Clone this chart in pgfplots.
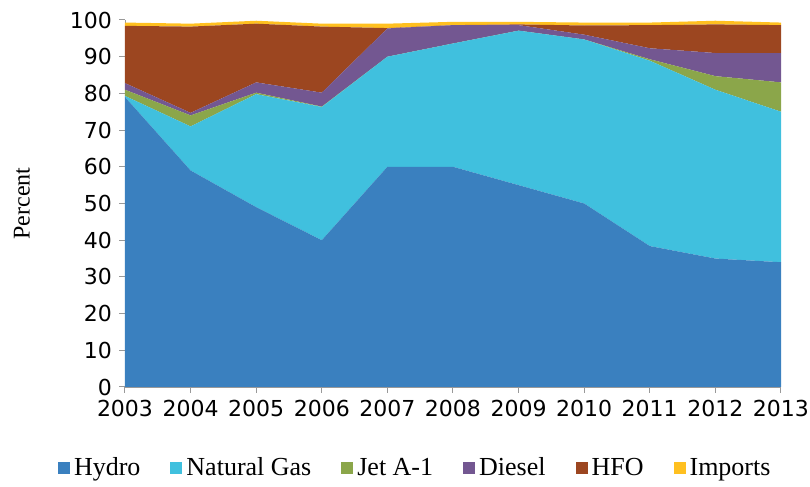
\documentclass[border=0pt]{standalone}
\usepackage{fontspec}
\setmainfont{Liberation Serif}
\newfontfamily\tickfont{DejaVu Sans}
\usepackage{pgfplots}
\pgfplotsset{compat=1.18}
\definecolor{chydro}{RGB}{58,128,191}
\definecolor{cgas}{RGB}{64,192,222}
\definecolor{cjet}{RGB}{139,166,74}
\definecolor{cdiesel}{RGB}{115,87,145}
\definecolor{chfo}{RGB}{156,70,32}
\definecolor{cimp}{RGB}{255,192,32}
\begin{document}
\begin{tikzpicture}
\begin{axis}[
  scale only axis, width=328pt, height=183.5pt,
  xmin=2003, xmax=2013, ymin=0, ymax=100,
  xtick={2003,...,2013}, ytick={0,10,...,100},
  axis lines*=left, axis line style={draw=gray!80},
  tick style={draw=gray!80, line width=0.5pt},
  tick align=outside, major tick length=3pt,
  x tick label style={font=\tickfont\fontsize{11}{13}\selectfont, inner xsep=0pt, /pgf/number format/1000 sep={}},
  y tick label style={font=\tickfont\fontsize{11}{13}\selectfont},
  /pgf/number format/assume math mode=true,
  xticklabel style={/pgf/number format/1000 sep={}},
  ylabel={Percent},
  ylabel style={font=\fontsize{12}{14}\selectfont, at={(rel axis cs:0,0.5)}, yshift=51.5pt, anchor=center},
  stack plots=y, clip=false,
  legend columns=6,
  legend style={draw=none, fill=none, font=\fontsize{13}{15}\selectfont, at={([yshift=-40.5pt]rel axis cs:0.444,0)}, anchor=center, /tikz/every even column/.append style={column sep=13pt}},
  legend image code/.code={\fill[#1] (0pt,-3pt) rectangle (6pt,3pt);},
  every axis plot/.append style={draw=none},
]
\addplot[fill=chydro] coordinates {(2003,79)(2004,59)(2005,49)(2006,40)(2007,60)(2008,60)(2009,55)(2010,50)(2011,38.4)(2012,35)(2013,34)} \closedcycle;
\addplot[fill=cgas] coordinates {(2003,0.3)(2004,12)(2005,30.8)(2006,36.3)(2007,30)(2008,33.6)(2009,42.1)(2010,44.7)(2011,50.5)(2012,46)(2013,41)} \closedcycle;
\addplot[fill=cjet] coordinates {(2003,1.7)(2004,3)(2005,0.4)(2006,0.1)(2007,0)(2008,0)(2009,0)(2010,0)(2011,0.4)(2012,3.7)(2013,8)} \closedcycle;
\addplot[fill=cdiesel] coordinates {(2003,1.8)(2004,0.7)(2005,2.8)(2006,3.8)(2007,7.7)(2008,5)(2009,1.5)(2010,1.3)(2011,3)(2012,6.3)(2013,8)} \closedcycle;
\addplot[fill=chfo] coordinates {(2003,15.6)(2004,23.5)(2005,16)(2006,18)(2007,0.1)(2008,0)(2009,0.2)(2010,2.5)(2011,6.3)(2012,7.8)(2013,7.6)} \closedcycle;
\addplot[fill=cimp] coordinates {(2003,0.9)(2004,0.8)(2005,0.8)(2006,0.8)(2007,1.2)(2008,0.9)(2009,0.7)(2010,0.8)(2011,0.7)(2012,1)(2013,0.7)} \closedcycle;
\legend{Hydro, Natural Gas, Jet A-1, Diesel, HFO, Imports}
\path ([xshift=-62.5pt,yshift=-49pt]rel axis cs:0,0) rectangle ([xshift=14.5pt,yshift=10pt]rel axis cs:1,1);
\end{axis}
\end{tikzpicture}
\end{document}
